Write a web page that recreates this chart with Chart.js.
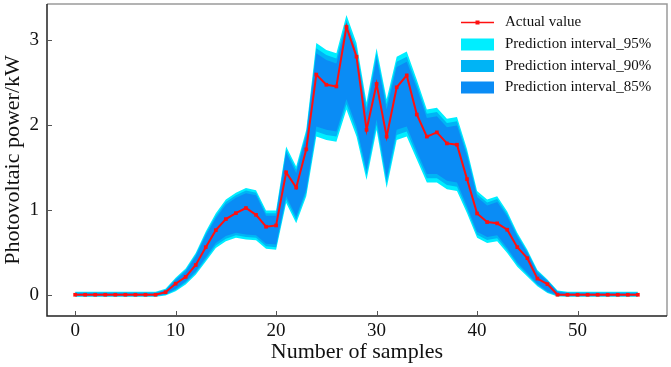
<!DOCTYPE html>
<html>
<head>
<meta charset="utf-8">
<script src="https://cdn.jsdelivr.net/npm/chart.js@4"></script>
<style>
  body { margin: 0; background: #fff; }
  canvas { display: block; }
</style>
</head>
<body>
<canvas id="chart" width="671" height="367"></canvas>
<script>
// values
const actual = [0, 0, 0, 0, 0, 0, 0, 0, 0, 0.03, 0.13, 0.21, 0.35, 0.56, 0.76, 0.89, 0.96, 1.02, 0.94, 0.80,
  0.815, 1.44, 1.26, 1.71, 2.59, 2.47, 2.45, 3.15, 2.80, 1.94, 2.48, 1.86, 2.44, 2.58, 2.12, 1.86, 1.91, 1.78, 1.765, 1.36,
  0.956, 0.855, 0.84, 0.765, 0.56, 0.43, 0.19, 0.125, 0, 0, 0, 0, 0, 0, 0, 0, 0];

const upper95 = [0.035, 0.035, 0.035, 0.035, 0.035, 0.035, 0.035, 0.035, 0.035, 0.07, 0.20, 0.31, 0.49, 0.745, 0.96, 1.12, 1.20, 1.255, 1.23, 0.99,
  0.99, 1.745, 1.51, 1.94, 2.96, 2.88, 2.84, 3.29, 2.96, 2.26, 2.90, 2.30, 2.80, 2.86, 2.53, 2.18, 2.20, 2.07, 2.09, 1.71,
  1.22, 1.12, 1.16, 0.98, 0.73, 0.53, 0.29, 0.18, 0.05, 0.035, 0.035, 0.035, 0.035, 0.035, 0.035, 0.035, 0.035];
const lower95 = [-0.025, -0.025, -0.025, -0.025, -0.025, -0.025, -0.025, -0.025, -0.025, -0.01, 0.04, 0.12, 0.235, 0.39, 0.55, 0.63, 0.67, 0.65, 0.64, 0.54,
  0.53, 1.08, 0.84, 1.16, 1.86, 1.82, 1.80, 2.18, 1.86, 1.35, 1.94, 1.255, 1.82, 1.86, 1.59, 1.32, 1.32, 1.24, 1.22, 0.96,
  0.67, 0.61, 0.63, 0.49, 0.33, 0.215, 0.10, 0.02, -0.02, -0.025, -0.025, -0.025, -0.025, -0.025, -0.025, -0.025, -0.025];

const upper90 = [0.027, 0.027, 0.027, 0.027, 0.027, 0.027, 0.027, 0.027, 0.027, 0.06, 0.185, 0.29, 0.47, 0.72, 0.93, 1.09, 1.17, 1.225, 1.20, 0.96,
  0.96, 1.705, 1.47, 1.90, 2.90, 2.82, 2.78, 3.23, 2.90, 2.20, 2.84, 2.24, 2.74, 2.80, 2.48, 2.13, 2.15, 2.02, 2.04, 1.67,
  1.185, 1.085, 1.125, 0.95, 0.705, 0.51, 0.275, 0.17, 0.042, 0.027, 0.027, 0.027, 0.027, 0.027, 0.027, 0.027, 0.027];
const lower90 = [-0.017, -0.017, -0.017, -0.017, -0.017, -0.017, -0.017, -0.017, -0.017, 0.0, 0.055, 0.14, 0.255, 0.415, 0.58, 0.66, 0.70, 0.68, 0.67, 0.57,
  0.56, 1.12, 0.88, 1.20, 1.92, 1.88, 1.86, 2.24, 1.92, 1.41, 2.00, 1.315, 1.88, 1.92, 1.64, 1.37, 1.37, 1.29, 1.27, 1.00,
  0.705, 0.645, 0.665, 0.52, 0.355, 0.235, 0.115, 0.03, -0.012, -0.017, -0.017, -0.017, -0.017, -0.017, -0.017, -0.017, -0.017];

const upper85 = [0.019, 0.019, 0.019, 0.019, 0.019, 0.019, 0.019, 0.019, 0.019, 0.05, 0.17, 0.27, 0.45, 0.695, 0.90, 1.06, 1.14, 1.195, 1.17, 0.93,
  0.93, 1.665, 1.43, 1.86, 2.84, 2.76, 2.72, 3.17, 2.84, 2.14, 2.78, 2.18, 2.68, 2.74, 2.43, 2.08, 2.10, 1.97, 1.99, 1.63,
  1.15, 1.05, 1.09, 0.92, 0.68, 0.49, 0.26, 0.16, 0.034, 0.019, 0.019, 0.019, 0.019, 0.019, 0.019, 0.019, 0.019];
const lower85 = [-0.009, -0.009, -0.009, -0.009, -0.009, -0.009, -0.009, -0.009, -0.009, 0.01, 0.07, 0.16, 0.275, 0.44, 0.61, 0.69, 0.73, 0.71, 0.70, 0.60,
  0.59, 1.16, 0.92, 1.24, 1.98, 1.94, 1.92, 2.30, 1.98, 1.47, 2.06, 1.375, 1.94, 1.98, 1.69, 1.42, 1.42, 1.34, 1.32, 1.04,
  0.74, 0.68, 0.70, 0.55, 0.38, 0.255, 0.13, 0.04, -0.004, -0.009, -0.009, -0.009, -0.009, -0.009, -0.009, -0.009, -0.009];

const xTicks = [0, 10, 20, 30, 40, 50];
const yTicks = [0, 1, 2, 3];

const legendLabels = ['Actual value', 'Prediction interval_95%', 'Prediction interval_90%', 'Prediction interval_85%'];

const RED = '#ff1010';
const C95 = '#00eeff';
const C90 = '#00b4f5';
const C85 = '#0a8cf5';
const serif = '"Liberation Serif", "Times New Roman", serif';

const samples = actual.map((_, i) => i);
const pts = arr => arr.map((v, i) => ({ x: samples[i], y: v }));

function band(arr, color, fill) {
  return {
    data: pts(arr),
    borderWidth: 0,
    borderColor: color,
    backgroundColor: color,
    pointRadius: 0,
    fill: fill,
    tension: 0
  };
}

// no extra room for half-height edge labels, chart area is fixed by hand
function noPad(s) {
  s.paddingTop = 0;
  s.paddingBottom = 0;
  s.paddingLeft = 0;
  s.paddingRight = 0;
}

const framePlugin = {
  id: 'frame',
  afterDraw(chart) {
    const { ctx, chartArea: a, scales: { x, y } } = chart;
    ctx.save();
    ctx.lineWidth = 1.5;
    ctx.strokeStyle = '#9a9a9a';
    ctx.beginPath();
    ctx.moveTo(a.left, a.top);
    ctx.lineTo(a.right, a.top);
    ctx.lineTo(a.right, a.bottom);
    ctx.stroke();
    ctx.strokeStyle = '#222';
    ctx.beginPath();
    ctx.moveTo(a.left, a.top);
    ctx.lineTo(a.left, a.bottom);
    ctx.lineTo(a.right, a.bottom);
    ctx.stroke();

    ctx.lineWidth = 1;
    ctx.strokeStyle = '#555';
    x.ticks.forEach(t => {
      const px = Math.round(x.getPixelForValue(t.value)) + 0.5;
      ctx.beginPath();
      ctx.moveTo(px, a.bottom);
      ctx.lineTo(px, a.bottom - 5);
      ctx.stroke();
    });
    y.ticks.forEach(t => {
      const py = Math.round(y.getPixelForValue(t.value)) + 0.5;
      ctx.beginPath();
      ctx.moveTo(a.left, py);
      ctx.lineTo(a.left + 5, py);
      ctx.stroke();
    });

    // legend
    const lx = 461, lw = 33, tx = 505;
    const rows = [22.5, 44.5, 66, 87.5];
    ctx.font = '15px ' + serif;
    ctx.fillStyle = '#111';
    ctx.textBaseline = 'middle';
    ctx.textAlign = 'left';
    legendLabels.forEach((lab, i) => ctx.fillText(lab, tx, rows[i]));
    ctx.strokeStyle = RED;
    ctx.lineWidth = 1.5;
    ctx.beginPath();
    ctx.moveTo(lx, rows[0]);
    ctx.lineTo(lx + lw, rows[0]);
    ctx.stroke();
    ctx.fillStyle = RED;
    ctx.fillRect(lx + lw / 2 - 2, rows[0] - 2, 4, 4);
    [C95, C90, C85].forEach((c, i) => {
      ctx.fillStyle = c;
      ctx.fillRect(lx, rows[i + 1] - 6, lw, 12);
    });
    ctx.restore();
  }
};

new Chart(document.getElementById('chart').getContext('2d'), {
  type: 'line',
  data: {
    datasets: [
      {
        data: pts(actual),
        borderColor: RED,
        backgroundColor: RED,
        borderWidth: 2,
        pointStyle: 'rect',
        pointRadius: 2.6,
        pointBorderWidth: 0,
        fill: false,
        tension: 0
      },
      band(upper85, C85, '+1'),
      band(lower85, C85, false),
      band(upper90, C90, '+1'),
      band(lower90, C90, false),
      band(upper95, C95, '+1'),
      band(lower95, C95, false)
    ]
  },
  options: {
    responsive: false,
    animation: false,
    layout: { padding: { top: 4, right: 1, left: 0, bottom: 0 } },
    plugins: { legend: { display: false }, tooltip: { enabled: false } },
    scales: {
      x: {
        type: 'linear',
        min: -2.8,
        max: 58.9,
        afterBuildTicks: s => { s.ticks = xTicks.map(v => ({ value: v })); },
        afterFit: s => { s.height = 51; noPad(s); },
        grid: { display: false, drawTicks: false },
        border: { display: false },
        ticks: { font: { family: serif, size: 19 }, color: '#111', padding: 4, maxRotation: 0 },
        title: { display: true, text: 'Number of samples', font: { family: serif, size: 22 }, color: '#111', padding: { top: 0, bottom: 2 } }
      },
      y: {
        min: -0.25,
        max: 3.42,
        afterBuildTicks: s => { s.ticks = yTicks.map(v => ({ value: v })); },
        afterFit: s => { s.width = 47; noPad(s); },
        grid: { display: false, drawTicks: false },
        border: { display: false },
        ticks: { font: { family: serif, size: 19 }, color: '#111', padding: 8 },
        title: { display: true, text: 'Photovoltaic power/kW', font: { family: serif, size: 22 }, color: '#111', padding: 0 }
      }
    }
  },
  plugins: [framePlugin]
});
</script>
</body>
</html>
